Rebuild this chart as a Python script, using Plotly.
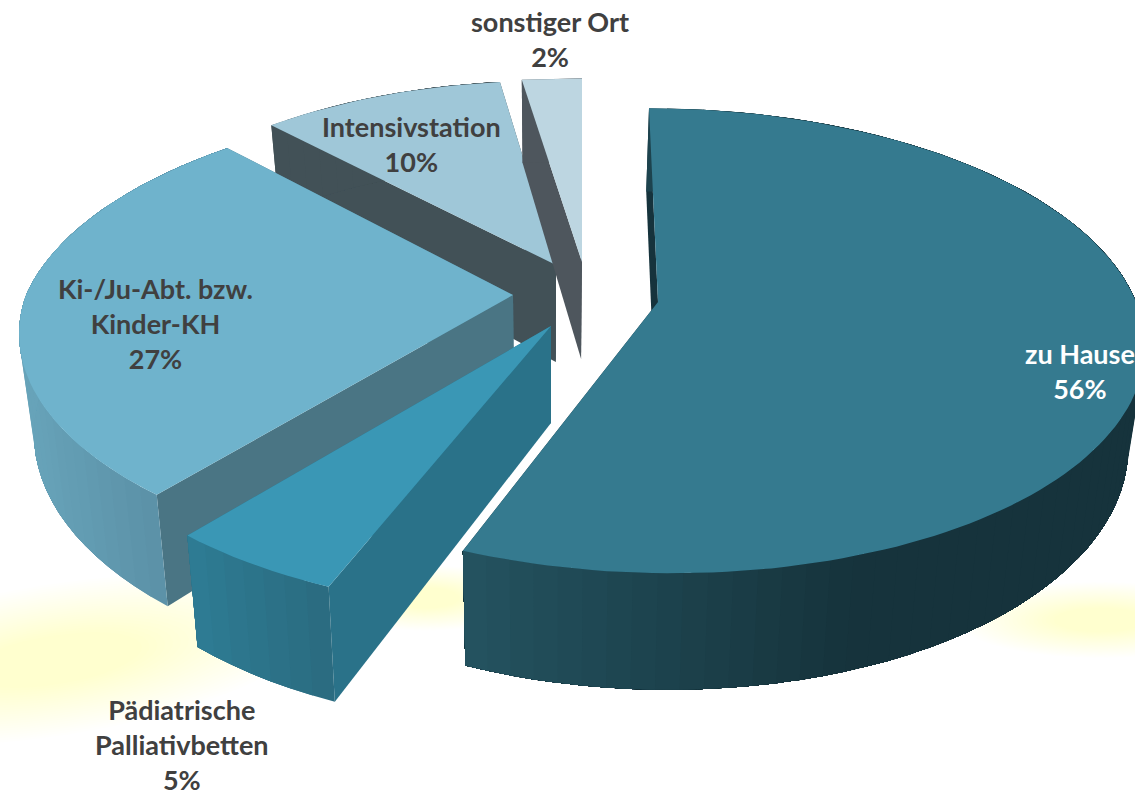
import math
import plotly.graph_objects as go

categories = ["zu Hause", "Pädiatrische<br>Palliativbetten", "Ki-/Ju-Abt. bzw.<br>Kinder-KH", "Intensivstation", "sonstiger Ort"]
values = [56, 5, 27, 10, 2]
label_colors = ["#ffffff", "#404040", "#404040", "#404040", "#404040"]
label_x = [1080, 182, 155, 411, 550]
label_y = [371, 744, 323, 144, 39]

top_colors = ["#357a8f", "#3a97b5", "#6fb3cc", "#9fc7d8", "#bdd6e1"]
cut_colors = ["#16333c", "#2a7289", "#4a7584", "#425157", "#4e565d"]
wall_left = ["#245360", "#2e7b93", "#67a3b9", "#425157", "#4e565d"]
wall_right = ["#16333c", "#2a6a7e", "#5a8fa5", "#425157", "#4e565d"]
wall_span = [(462, 850), (195, 335), (25, 168), (270, 560), (520, 585)]

# projection settings per slice: apex x, apex y, radius x, radius y, near/far shear
apex = [(658, 302), (551, 326), (513, 295), (556, 265), (582, 262)]
radii = [(478, 226), (485, 237), (487, 226), (458, 215), (560, 214)]
shear = [(-12, -10.5), (10, 0), (0, 18), (0, -8), (0, 0)]
KP = 0.167
THICK = 97
VX, FX = 550, 0.028
draw_order = [3, 4, 2, 1, 0]

glows = [(55, 660, 200, 56, -9), (425, 598, 80, 24, 0), (1100, 620, 105, 28, 0)]


def mix(a, b, t):
    t = max(0, min(1, t))
    ca = [int(a[i:i + 2], 16) for i in (1, 3, 5)]
    cb = [int(b[i:i + 2], 16) for i in (1, 3, 5)]
    return "#%02x%02x%02x" % tuple(round(p + (q - p) * t) for p, q in zip(ca, cb))


def project(i, deg, r=1.0):
    a = math.radians(deg)
    X, Y = r * math.sin(a), r * math.cos(a)
    s = 1 / (1 + KP * Y)
    ax, ay = apex[i]
    rx, ry = radii[i]
    sh = shear[i][0] if Y < 0 else shear[i][1]
    return ax + rx * X * s + sh * Y * s, ay - ry * Y * s, s


def lower(p):
    x, y, s = p
    return x + (VX - x) * FX, y + THICK * s


fig = go.Figure()


def poly(xs, ys, color, lw=0.0, op=1.0):
    fig.add_trace(go.Scatter(
        x=list(xs) + [xs[0]], y=list(ys) + [ys[0]], mode="lines", fill="toself",
        fillcolor=color, opacity=op, line=dict(color=color, width=lw),
        hoverinfo="skip", showlegend=False))


for gx, gy, grx, gry, tilt in glows:
    for step in range(24):
        f = 1.35 - 0.95 * step / 24
        pts = []
        for d in range(0, 360, 10):
            a = math.radians(d)
            ex, ey = grx * f * math.cos(a), gry * f * math.sin(a)
            t = math.radians(tilt)
            pts.append((gx + ex * math.cos(t) - ey * math.sin(t), gy + ex * math.sin(t) + ey * math.cos(t)))
        poly([p[0] for p in pts], [p[1] for p in pts], "#fbfb9a", 0, 0.018)

total = sum(values)
starts = []
acc = 0
for v in values:
    starts.append(acc)
    acc += v

for i in draw_order:
    a0 = starts[i] / total * 360
    a1 = (starts[i] + values[i]) / total * 360
    tip = (apex[i][0], apex[i][1], 1.0)
    tip_low = lower(tip)
    # cut faces
    for ang in (a1, a0):
        o = project(i, ang)
        ol = lower(o)
        poly([o[0], tip[0], tip_low[0], ol[0]], [o[1], tip[1], tip_low[1], ol[1]], cut_colors[i])
    # outer wall, painted from the far end so that each strip overlaps the next
    n = max(2, int((a1 - a0) / 2.5))
    angs = [a0 + (a1 - a0) * k / n for k in range(n + 1)]
    for k in range(n):
        p = project(i, angs[k])
        rim = [project(i, angs[j]) for j in range(k, n + 1)]
        low = [lower(r) for r in reversed(rim)]
        nxt = project(i, angs[k + 1])
        t = ((p[0] + nxt[0]) / 2 - wall_span[i][0]) / (wall_span[i][1] - wall_span[i][0])
        poly([r[0] for r in rim] + [r[0] for r in low], [r[1] for r in rim] + [r[1] for r in low],
             mix(wall_left[i], wall_right[i], t))
    # top face
    n = max(6, int((a1 - a0) / 1.5))
    rim = [project(i, a0 + (a1 - a0) * k / n) for k in range(n + 1)]
    poly([apex[i][0]] + [p[0] for p in rim], [apex[i][1]] + [p[1] for p in rim], top_colors[i])

for i in range(len(values)):
    fig.add_annotation(
        x=label_x[i], y=label_y[i], xref="x", yref="y", showarrow=False, align="center",
        text=f"<b>{categories[i]}<br>{values[i]}%</b>",
        font=dict(family="Lato", size=27, color=label_colors[i]))

fig.update_layout(
    width=1135, height=794, margin=dict(l=0, r=0, t=0, b=0),
    paper_bgcolor="#ffffff", plot_bgcolor="#ffffff", showlegend=False,
    xaxis=dict(range=[0, 1135], visible=False, fixedrange=True),
    yaxis=dict(range=[794, 0], visible=False, fixedrange=True))

fig.write_html("out.html", post_script="document.body.style.margin='0';",
               config={"displayModeBar": False})
